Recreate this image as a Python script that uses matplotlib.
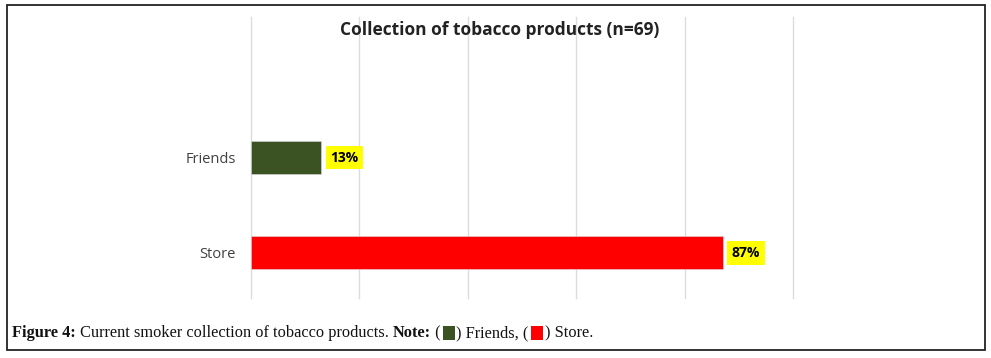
#!/usr/bin/python3
"""Horizontal bar chart: collection of tobacco products (n=69)."""
import matplotlib
matplotlib.use("Agg")
import matplotlib.pyplot as plt
from matplotlib.patches import Rectangle

# data
categories = ["Store", "Friends"]
percentages = [87, 13]
bar_colors = ["#ff0000", "#3b5323"]
title_s = "Collection of tobacco products (n=69)"
x_ticks = [0, 20, 40, 60, 80, 100]

W, H = 991, 358


def px(x, y):
    """Pixel (from top-left) to figure fraction."""
    return x / W, 1 - y / H


fig = plt.figure(figsize=(W / 100, H / 100), dpi=100)

# axes placed where the plot area sits in the reference
left, top = px(251, 17)
right, bottom = px(793, 298)
ax = fig.add_axes([left, bottom, right - left, top - bottom])

y_pos = list(range(len(categories)))
ax.barh(y_pos, percentages, height=0.35, color=bar_colors,
        edgecolor="#d9d9d9", linewidth=0.4, zorder=3)
ax.set_xlim(0, 100)
ax.set_ylim(-0.474, 2.474)
ax.set_xticks(x_ticks)
ax.set_xticklabels([])
ax.tick_params(axis="x", length=0)
ax.tick_params(axis="y", length=0, pad=11, labelsize=10.5, labelcolor="#404040")
ax.set_yticks(y_pos)
ax.set_yticklabels(categories, family="Open Sans")
ax.grid(axis="x", color="#dcdcdc", linewidth=1.0, zorder=0)
for line in ax.get_xgridlines():
    line.set_clip_on(False)
for spine in ax.spines.values():
    spine.set_visible(False)

for yp, val in zip(y_pos, percentages):
    ax.annotate(f"{val}%", xy=(val, yp), xytext=(6.5, 0),
                textcoords="offset points", va="center", ha="left",
                fontsize=10, fontweight="bold", family="Open Sans",
                bbox=dict(boxstyle="square,pad=0.35", fc="#ffff00", ec="none"))

tx, ty = px(500, 30)
fig.text(tx, ty, title_s, ha="center", va="center", fontsize=12.5,
         fontweight="bold", family="Open Sans", color="#222222")

# outer frame
x0, y0 = px(7, 5)
x1, y1 = px(985, 350)
fig.add_artist(Rectangle((x0, y1), x1 - x0, y0 - y1, transform=fig.transFigure,
                         fill=False, ec="#222222", lw=1.3))

# caption with bold pieces and colour swatches
fig.canvas.draw()
renderer = fig.canvas.get_renderer()
cx, cy = 12, 333
pieces = [("Figure 4:", "bold"), (" Current smoker collection of tobacco products. ", "normal"),
          ("Note:", "bold"), (" (", "normal"), ("#3b5323", None), (") Friends, (", "normal"),
          ("#ff0000", None), (") Store.", "normal")]
for s, weight in pieces:
    if weight is None:
        sx, sy = px(cx + 2, cy + 7)
        fig.add_artist(Rectangle((sx, sy), 12 / W, 14 / H, transform=fig.transFigure,
                                 fc=s, ec="none"))
        cx += 16
        continue
    fx, fy = px(cx, cy)
    t = fig.text(fx, fy, s, ha="left", va="center", fontsize=11.8,
                 fontweight=weight, family="Liberation Serif", color="#111111")
    bb = t.get_window_extent(renderer)
    cx += bb.width

fig.savefig("out.png", dpi=100)
